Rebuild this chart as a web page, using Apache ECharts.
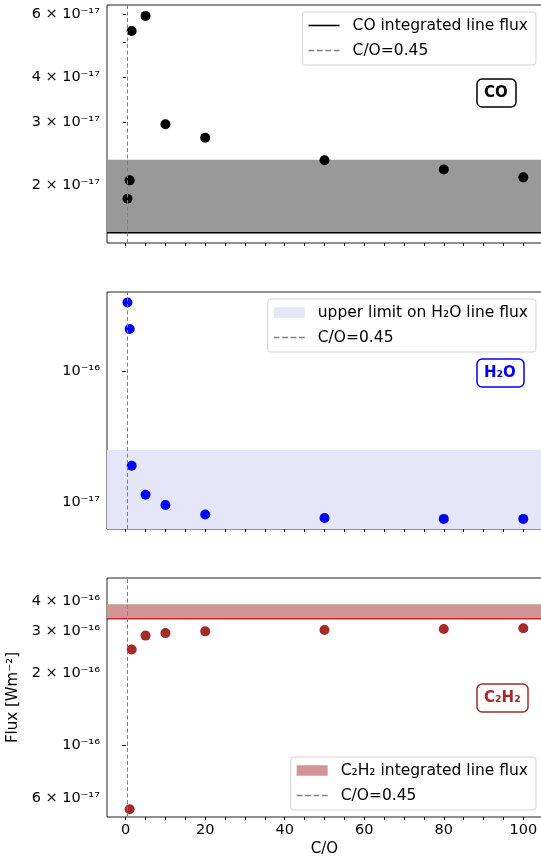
<!DOCTYPE html>
<html>
<head>
<meta charset="utf-8">
<script src="https://cdn.jsdelivr.net/npm/echarts@6/dist/echarts.min.js"></script>
<style>
  html, body { margin: 0; padding: 0; background: #fff; }
  #chart { width: 541px; height: 859px; }
</style>
</head>
<body>
<div id="chart"></div>
<script>
// C/O ratio of each model
const coRatio = [0.45, 1, 1.5, 5, 10, 20, 50, 80, 100];
// model line fluxes [W m^-2]
const coFlux = [1.83e-17, 2.06e-17, 5.38e-17, 5.93e-17, 2.955e-17, 2.71e-17, 2.345e-17, 2.21e-17, 2.10e-17];
const h2oFlux = [3.31e-16, 2.08e-16, 1.89e-17, 1.136e-17, 9.5e-18, 8.05e-18, 7.56e-18, 7.45e-18, 7.45e-18];
const c2h2Flux = [null, 5.39e-17, 2.51e-16, 2.87e-16, 2.94e-16, 2.99e-16, 3.03e-16, 3.06e-16, 3.08e-16];

// observed values
const coObserved = [1.47e-17, 2.35e-17];     // line, top of shaded band
const h2oUpperLimit = 2.49e-17;
const c2h2Observed = [3.38e-16, 3.885e-16];
const solarCO = 0.45;

// axis limits
const xRange = [-4.7, 104.7];
const coRange = [1.377e-17, 6.36e-17];
const h2oRange = [6.24e-18, 3.98e-16];
const c2h2Range = [5e-17, 5e-16];

// ticks
const xTicks = [0, 20, 40, 60, 80, 100];
const xMinorTicks = [0, 5, 10, 15, 20, 25, 30, 35, 40, 45, 50, 55, 60, 65, 70, 75, 80, 85, 90, 95, 100];
const coTicks = [2e-17, 3e-17, 4e-17, 6e-17];
const coMinorTicks = [2e-17, 3e-17, 4e-17, 5e-17, 6e-17];
const h2oTicks = [1e-17, 1e-16];
const h2oMinorTicks = [7e-18, 8e-18, 9e-18, 2e-17, 3e-17, 4e-17, 5e-17, 6e-17, 7e-17, 8e-17, 9e-17, 2e-16, 3e-16];
const c2h2Ticks = [6e-17, 1e-16, 2e-16, 3e-16, 4e-16];
const c2h2MinorTicks = [6e-17, 7e-17, 8e-17, 9e-17, 2e-16, 3e-16, 4e-16];

const SUP = {'-': '⁻', '0': '⁰', '1': '¹', '2': '²', '3': '³', '4': '⁴', '5': '⁵', '6': '⁶', '7': '⁷', '8': '⁸', '9': '⁹'};
function sup(s) { return String(s).split('').map(c => SUP[c]).join(''); }
function sciLabel(v) {
  const e = Math.floor(Math.log10(v) + 1e-9);
  const m = Math.round(v / Math.pow(10, e));
  return m === 1 ? '10' + sup(e) : m + ' × 10' + sup(e);
}

const FONT = 'DejaVu Sans';
const BROWN = '#A52A2A';
const DASH_GREY = '#808080';

const grids = [
  {left: 107, top: 5, width: 435, height: 238},
  {left: 107, top: 292, width: 435, height: 237},
  {left: 107, top: 578, width: 435, height: 239}
].map(g => Object.assign(g, {
  show: true, borderColor: '#222', borderWidth: 1, backgroundColor: 'transparent',
  containLabel: false, outerBoundsMode: 'none'
}));

const xAxes = [0, 1, 2].map(i => ({
  type: 'value', gridIndex: i, min: xRange[0], max: xRange[1],
  axisLine: {show: false},
  splitLine: {show: false},
  axisTick: {show: true, length: 3, customValues: xMinorTicks, lineStyle: {color: '#000'}},
  axisLabel: {show: i === 2, customValues: xTicks, color: '#000', fontSize: 14.5, fontFamily: FONT, margin: 6},
  name: i === 2 ? 'C/O' : '',
  nameLocation: 'middle', nameGap: 25,
  nameTextStyle: {color: '#000', fontSize: 15, fontFamily: FONT}
}));

function logAxis(grid, range, ticks, labels, len, showLabel, extra) {
  return Object.assign({
    type: 'log', gridIndex: grid, min: range[0], max: range[1],
    axisLine: {show: false},
    splitLine: {show: false},
    axisTick: {show: true, length: len, customValues: ticks, lineStyle: {color: '#000'}},
    axisLabel: {show: showLabel, customValues: labels, formatter: sciLabel, color: '#000', fontSize: 14.5, fontFamily: FONT, margin: 7}
  }, extra || {});
}

const yAxes = [
  logAxis(0, coRange, coMinorTicks, coTicks, 2.5, true),
  logAxis(1, h2oRange, h2oTicks, h2oTicks, 3.5, true),
  logAxis(2, c2h2Range, [1e-16], c2h2Ticks, 3.5, true, {
    name: 'Flux [Wm⁻²]', nameLocation: 'middle', nameGap: 78,
    nameTextStyle: {color: '#000', fontSize: 15, fontFamily: FONT}
  }),
  logAxis(1, h2oRange, h2oMinorTicks, [], 2, false),
  logAxis(2, c2h2Range, c2h2MinorTicks, [], 2, false)
];

function pts(ys) { return coRatio.map((x, i) => [x, ys[i]]).filter(p => p[1] != null); }

function dashedMarker(i) {
  return {
    name: 'C/O=0.45', type: 'line', xAxisIndex: i, yAxisIndex: i, data: [], z: 2,
    color: DASH_GREY, lineStyle: {color: DASH_GREY}, itemStyle: {color: DASH_GREY},
    markLine: {
      silent: true, symbol: 'none', label: {show: false},
      lineStyle: {color: DASH_GREY, width: 1, type: [4, 2.5]},
      data: [{xAxis: solarCO}]
    }
  };
}

// horizontal observed level drawn across the whole panel
function level(name, i, v, color) {
  return {
    name: name, type: 'line', xAxisIndex: i, yAxisIndex: i, z: 2,
    data: [[xRange[0], v], [xRange[1], v]],
    showSymbol: false, symbol: 'none', silent: true,
    color: color, lineStyle: {color: color, width: 1.5}, itemStyle: {color: color}
  };
}

function band(name, i, lo, hi, color) {
  return {
    name: name, type: 'line', xAxisIndex: i, yAxisIndex: i, data: [], z: 1,
    color: color, lineStyle: {color: color}, itemStyle: {color: color},
    markArea: {silent: true, itemStyle: {color: color}, data: [[{yAxis: lo}, {yAxis: hi}]]}
  };
}

function dots(i, ys, color) {
  return {
    type: 'scatter', xAxisIndex: i, yAxisIndex: i, data: pts(ys), z: 3,
    symbolSize: 10, itemStyle: {color: color, opacity: 1}
  };
}

const series = [
  // CO
  band(undefined, 0, coObserved[0], coObserved[1], '#999999'),
  level('CO integrated line flux', 0, coObserved[0], '#000'),
  dashedMarker(0),
  dots(0, coFlux, '#000'),
  // H2O
  band('upper limit on H₂O line flux', 1, h2oRange[0], h2oUpperLimit, '#E6E6FA'),
  dashedMarker(1),
  dots(1, h2oFlux, '#0000FF'),
  // C2H2
  band('C₂H₂ integrated line flux', 2, c2h2Observed[0], c2h2Observed[1], '#D29494'),
  level(undefined, 2, c2h2Observed[0], '#C02A2A'),
  dashedMarker(2),
  dots(2, c2h2Flux, BROWN)
];

const lineIcon = 'path://M0,0H30V1.5H0Z';
const dashIcon = 'path://M0,0h5.5v1.2h-5.5zM8,0h5.5v1.2h-5.5zM16,0h5.5v1.2h-5.5zM24,0h5.5v1.2h-5.5z';

function legendBox(top, items) {
  return {
    orient: 'vertical', right: 5, top: top,
    itemWidth: 31, itemHeight: 10.5, itemGap: 8,
    padding: [5, 8, 6, 6],
    backgroundColor: '#fff', borderColor: '#d5d5d5', borderWidth: 1, borderRadius: 3,
    selectedMode: false,
    textStyle: {color: '#000', fontSize: 15.5, fontFamily: FONT, lineHeight: 17, padding: [0, 0, 0, 8]},
    data: items
  };
}

const dashItem = {name: 'C/O=0.45', icon: dashIcon, itemStyle: {color: DASH_GREY, borderWidth: 0}};

const legends = [
  legendBox(12, [{name: 'CO integrated line flux', icon: lineIcon, itemStyle: {color: '#000', borderWidth: 0}}, dashItem]),
  legendBox(299, [{name: 'upper limit on H₂O line flux', icon: 'rect', itemStyle: {color: '#E6E6FA', borderWidth: 0}}, dashItem]),
  legendBox(757, [{name: 'C₂H₂ integrated line flux', icon: 'rect', itemStyle: {color: '#D29494', borderWidth: 0}}, dashItem])
];

function tag(text, color, left, top) {
  return {
    text: text, left: left, top: top,
    padding: [5, 8, 5, 7],
    borderColor: color, borderWidth: 1.5, borderRadius: 5, backgroundColor: '#fff',
    textStyle: {color: color, fontSize: 15, fontWeight: 'bold', fontFamily: FONT, lineHeight: 18}
  };
}

const chart = echarts.init(document.getElementById('chart'));
chart.setOption({
  animation: false,
  backgroundColor: '#fff',
  textStyle: {fontFamily: FONT},
  title: [
    tag('CO', '#000', 477, 79),
    tag('H₂O', '#0000FF', 477, 359),
    tag('C₂H₂', BROWN, 477, 684)
  ],
  legend: legends,
  grid: grids,
  xAxis: xAxes,
  yAxis: yAxes,
  series: series
});
</script>
</body>
</html>
